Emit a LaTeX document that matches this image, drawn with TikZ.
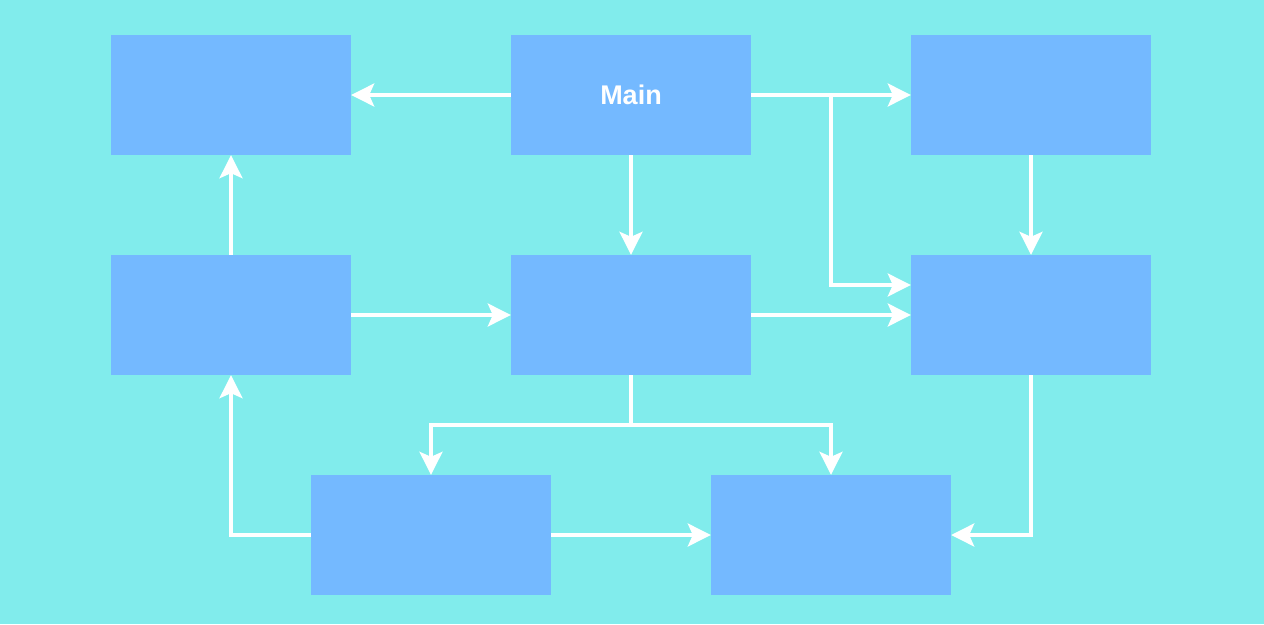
\documentclass[tikz,border=0pt]{standalone}
\usepackage{fontspec}
\setmainfont{Liberation Sans}
\usetikzlibrary{arrows.meta,calc}
\definecolor{bgcyan}{HTML}{81ECEC}
\definecolor{boxblue}{HTML}{74B9FF}
\begin{document}
\begin{tikzpicture}[x=1pt,y=-1pt,
  block/.style={fill=boxblue,draw=none,minimum width=240pt,minimum height=120pt,
    inner sep=0pt,text=white,font=\fontsize{27}{32}\selectfont\bfseries},
  link/.style={draw=white,line width=3.5pt,line join=miter,
    -{Stealth[length=23pt,width=23pt,inset=5pt]}}]
  % canvas
  \fill[bgcyan] (0,0) rectangle (1264,624);
  \useasboundingbox (0,0) rectangle (1264,624);
  % blocks
  \node[block] (tl)   at (231,95)  {};
  \node[block] (main) at (631,95)  {Main};
  \node[block] (tr)   at (1031,95) {};
  \node[block] (ml)   at (231,315) {};
  \node[block] (mc)   at (631,315) {};
  \node[block] (mr)   at (1031,315) {};
  \node[block] (bl)   at (431,535) {};
  \node[block] (br)   at (831,535) {};
  % branch points
  \coordinate (j1) at (831,95);
  \coordinate (j2) at (631,425);
  % connectors
  \draw[link] (main.west) -- (tl.east);
  \draw[link] (main.east) -- (tr.west);
  \draw[link] (j1) |- ([yshift=30pt]mr.west);
  \draw[link] (main.south) -- (mc.north);
  \draw[link] (tr.south) -- (mr.north);
  \draw[link] (ml.north) -- (tl.south);
  \draw[link] (ml.east) -- (mc.west);
  \draw[link] (mc.east) -- (mr.west);
  \draw[link] (mc.south) -- (j2) -| (bl.north);
  \draw[link] (j2) -| (br.north);
  \draw[link] (mr.south) |- (br.east);
  \draw[link] (bl.west) -| (ml.south);
  \draw[link] (bl.east) -- (br.west);
\end{tikzpicture}
\end{document}
